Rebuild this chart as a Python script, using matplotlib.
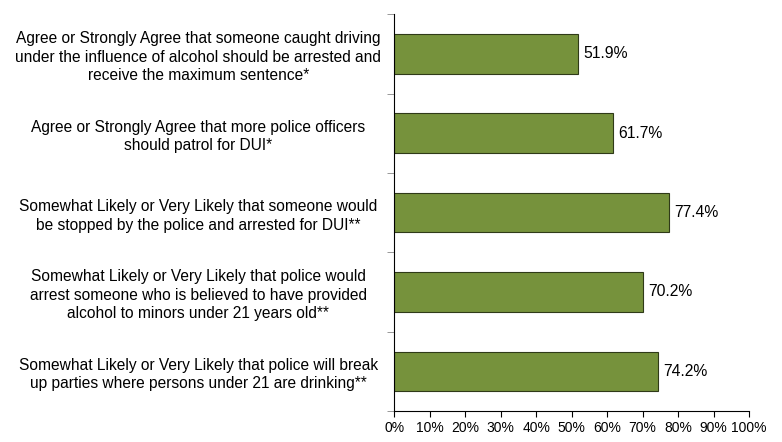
import matplotlib
matplotlib.use('Agg')
import matplotlib.pyplot as plt
import numpy as np

plt.rcParams['font.family'] = ['Liberation Sans', 'DejaVu Sans']

labels = [
    "Agree or Strongly Agree that someone caught driving\nunder the influence of alcohol should be arrested and\nreceive the maximum sentence*",
    "Agree or Strongly Agree that more police officers\nshould patrol for DUI*",
    "Somewhat Likely or Very Likely that someone would\nbe stopped by the police and arrested for DUI**",
    "Somewhat Likely or Very Likely that police would\narrest someone who is believed to have provided\nalcohol to minors under 21 years old**",
    "Somewhat Likely or Very Likely that police will break\nup parties where persons under 21 are drinking**",
]
values = [51.9, 61.7, 77.4, 70.2, 74.2]
xticks = list(range(0, 101, 10))

fig = plt.figure(figsize=(7.82, 4.42), dpi=100)
ax = fig.add_axes([0.504, 0.070, 0.454, 0.898])

y = np.arange(len(values))
ax.barh(y, values, height=0.5, color='#76923C', edgecolor='#2f3a18', linewidth=0.8)
for yi, v in zip(y, values):
    ax.text(v + 1.5, yi, f"{v}%", va='center', ha='left', fontsize=11.3)

ax.set_ylim(len(values) - 0.5, -0.5)
ax.set_xlim(0, 100)
ax.set_yticks(y)
ax.set_yticklabels(labels, fontsize=11.2, ha='center', linespacing=1.3)
ax.tick_params(axis='y', length=0, pad=141)
ax.set_yticks(np.arange(-0.5, len(values)), minor=True)
ax.tick_params(axis='y', which='minor', length=5, color='#888888')
ax.set_xticks(xticks)
ax.set_xticklabels([f"{t}%" for t in xticks], fontsize=10)
ax.tick_params(axis='x', length=4, pad=3)
ax.spines['top'].set_visible(False)
ax.spines['right'].set_visible(False)

fig.savefig('out.png', dpi=100)
